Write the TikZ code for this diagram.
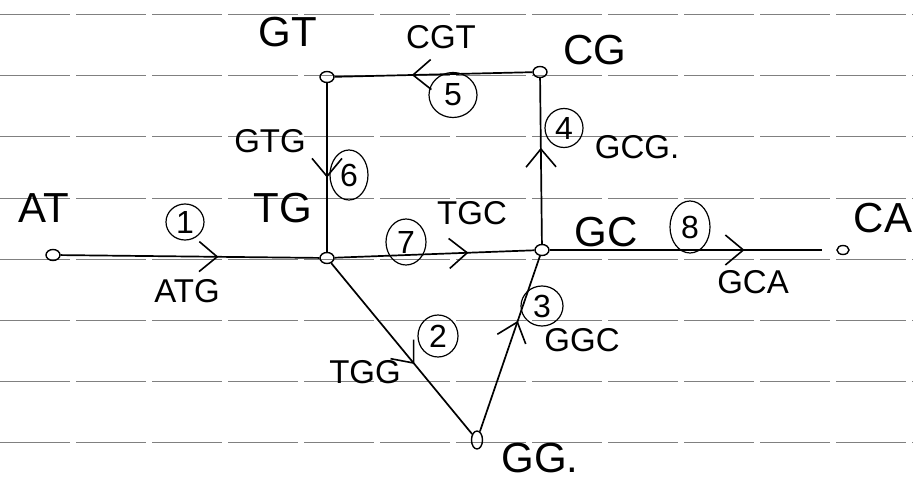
\documentclass[tikz,border=0pt]{standalone}
\usepackage{fontspec}
\setmainfont{Liberation Sans}
\usetikzlibrary{arrows.meta,decorations.markings,shapes.geometric}
\begin{document}
\begin{tikzpicture}[x=1pt,y=-1pt,
  vert/.style={draw, ellipse, line width=1.4pt, inner sep=0pt, minimum width=14pt, minimum height=11pt},
  nlabel/.style={font=\fontsize{42}{44}\selectfont, inner sep=0pt},
  elabel/.style={font=\fontsize{33}{35}\selectfont, inner sep=0pt},
  num/.style={draw, ellipse, line width=1.2pt, inner sep=0pt, minimum width=40pt, minimum height=46pt, font=\fontsize{32}{34}\selectfont},
  conn/.style={line width=1.7pt, postaction={decorate}, decoration={markings, mark=at position #1 with {\arrow{Straight Barb[length=18pt,width=30pt,line width=1.6pt]}}}},
  paper/.style={black!50, line width=1pt, dash pattern=on 70pt off 6pt}
]
\useasboundingbox (0,0) rectangle (913,484);
\fill[white] (0,0) rectangle (913,484);
% lined paper
\foreach \yy in {15,76,137,198,259,320,381,442}
  \draw[paper] (0,\yy) -- (913,\yy);

% vertices
\node[vert] (AT) at (53,255) {};
\node[vert] (TG) at (327,258) {};
\node[vert] (GC) at (542,250) {};
\node[vert, minimum width=12pt, minimum height=9pt] (CA) at (843,250) {};
\node[vert] (GT) at (327,77) {};
\node[vert] (CG) at (540,72) {};
\node[vert, minimum width=11pt, minimum height=18pt] (GG) at (477,440) {};

% vertex labels
\node[nlabel] (lAT) at (44,208) {AT};
\node[nlabel] (lTG) at (283,208) {TG};
\node[nlabel] (lGC) at (606,232) {GC};
\node[nlabel] (lCA) at (883,218) {CA};
\node[nlabel] (lGT) at (288,32) {GT};
\node[nlabel] (lCG) at (595,50) {CG};
\node[nlabel] (lGG) at (540,458) {GG.};

% edges
\draw[conn=0.61] (AT) -- (TG);
\draw[conn=0.67] (TG) -- (GC);
\draw[conn=0.68, shorten >=14pt] (GC) -- (CA);
\draw[conn=0.58] (GC) -- (CG);
\draw[conn=0.61] (CG) -- (GT);
\draw[conn=0.56] (GT) -- (TG);
\draw[conn=0.59] (TG) -- (GG);
\draw[conn=0.63] (GG) -- (GC);

% edge labels
\node[elabel] (eATG) at (187,291) {ATG};
\node[elabel] (eTGC) at (472,213) {TGC};
\node[elabel] (eGCA) at (753,282) {GCA};
\node[elabel] (eTGG) at (365,372) {TGG};
\node[elabel] (eGGC) at (582,340) {GGC};
\node[elabel] (eGCG) at (637,147) {GCG.};
\node[elabel] (eCGT) at (441,37) {CGT};
\node[elabel] (eGTG) at (270,141) {GTG};

% order numbers
\node[num, minimum width=38pt, minimum height=36pt] (n1) at (185,222) {1};
\node[num] (n7) at (406,242) {7};
\node[num, minimum height=52pt] (n8) at (690,227) {8};
\node[num, minimum height=42pt] (n2) at (438,336) {2};
\node[num, minimum width=42pt, minimum height=40pt] (n3) at (542,306) {3};
\node[num, minimum width=38pt, minimum height=39pt] (n4) at (564,128) {4};
\node[num, minimum width=48pt, minimum height=45pt] (n5) at (453,95) {5};
\node[num, minimum width=38pt, minimum height=50pt] (n6) at (349,175) {6};
\end{tikzpicture}
\end{document}
